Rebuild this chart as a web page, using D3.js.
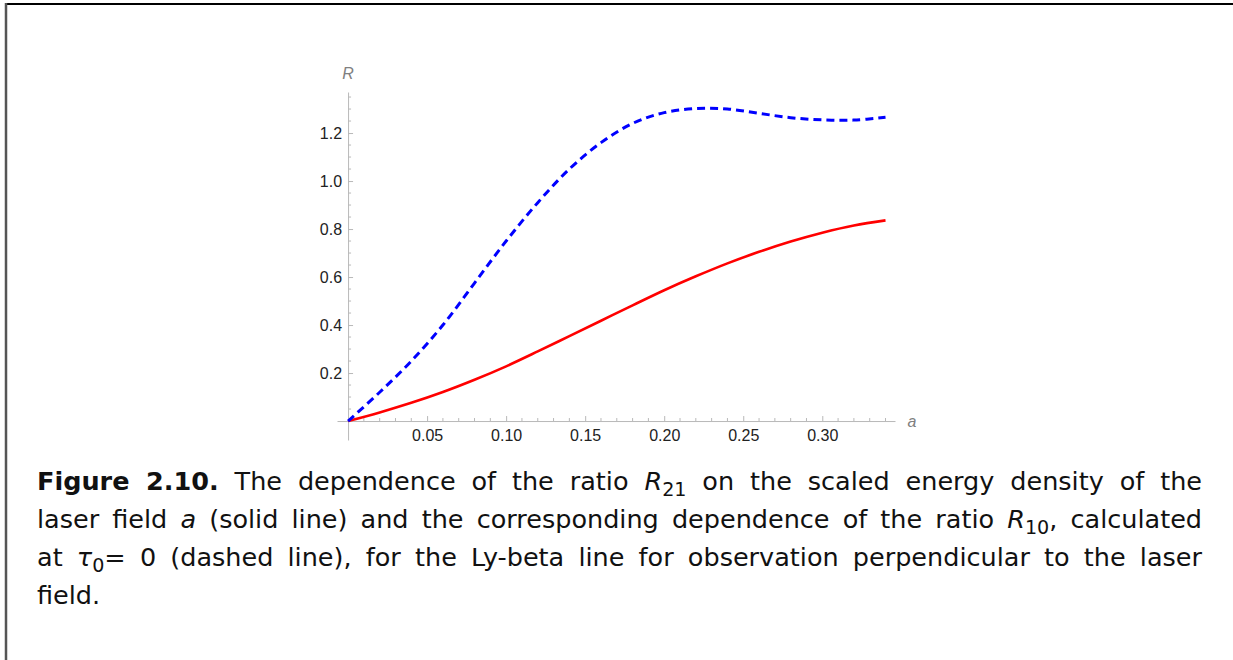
<!DOCTYPE html>
<html>
<head>
<meta charset="UTF-8"/>
<style>
  body { margin: 0; background: #fff; }
  #wrap { position: relative; width: 1233px; height: 660px; overflow: hidden; }
  #caption { position: absolute; left: 37px; top: 462px; width: 1165px;
             font-family: "DejaVu Sans", sans-serif;
             font-size: 25.5px; line-height: 38px; color: #111; }
  #caption .ln { text-align: justify; text-align-last: justify; white-space: nowrap; }
  #caption .ln.last { text-align-last: left; }
  #caption sub { font-size: 0.75em; vertical-align: -0.3em; line-height: 0; }
</style>
</head>
<body>
<div id="wrap"></div>
<script src="https://d3js.org/d3.v7.min.js"></script>
<script>
  // values
  var aValues  = [0, 0.02, 0.04, 0.06, 0.08, 0.10, 0.12, 0.14, 0.16, 0.18, 0.20, 0.22, 0.24, 0.26, 0.28, 0.30, 0.32, 0.34];
  var r21      = [0, 0.036, 0.076, 0.121, 0.172, 0.228, 0.29, 0.354, 0.418, 0.482, 0.545, 0.603, 0.657, 0.705, 0.748, 0.785, 0.815, 0.836];
  var r10      = [0, 0.12, 0.25, 0.40, 0.575, 0.75, 0.91, 1.05, 1.16, 1.24, 1.285, 1.302, 1.30, 1.282, 1.264, 1.255, 1.254, 1.266];
  var xTicks   = [0.05, 0.10, 0.15, 0.20, 0.25, 0.30];
  var yTicks   = [0.2, 0.4, 0.6, 0.8, 1.0, 1.2];
  var xMinor   = d3.range(1, 35).map(function(i) { return i / 100; }).filter(function(v) { return Math.round(v * 100) % 5 !== 0; });
  var yMinor   = d3.range(1, 28).map(function(i) { return i / 20; }).filter(function(v) { return Math.round(v * 20) % 4 !== 0; });
  var captionLines = [
    '<b>Figure 2.10.</b> The dependence of the ratio <i>R</i><sub>21</sub> on the scaled energy density of the',
    'laser field <i>a</i> (solid line) and the corresponding dependence of the ratio <i>R</i><sub>10</sub>, calculated',
    'at <i>&tau;</i><sub>0</sub>= 0 (dashed line), for the Ly-beta line for observation perpendicular to the laser',
    'field.'
  ];

  var width = 1233, height = 660;
  var wrap = d3.select("#wrap");
  var svg = wrap.append("svg").attr("width", width).attr("height", height);

  // frame (top + left edges of the page box)
  svg.append("line").attr("x1", 5).attr("x2", width).attr("y1", 4).attr("y2", 4)
    .attr("stroke", "#000").attr("stroke-width", 2);
  svg.append("line").attr("x1", 6).attr("x2", 6).attr("y1", 3).attr("y2", height)
    .attr("stroke", "#555").attr("stroke-width", 2.5);

  var x = d3.scaleLinear().domain([-0.007, 0.346]).range([337, 895]);
  var y = d3.scaleLinear().domain([-0.079, 1.371]).range([440, 92]);

  var axisColor = "#b8b8b8";
  var font = "'Liberation Sans', Arial, sans-serif";

  // minor ticks
  svg.append("g").selectAll("line").data(xMinor).enter().append("line")
    .attr("x1", function(d) { return x(d); }).attr("x2", function(d) { return x(d); })
    .attr("y1", y(0)).attr("y2", y(0) - 3)
    .attr("stroke", axisColor);
  svg.append("g").selectAll("line").data(yMinor).enter().append("line")
    .attr("y1", function(d) { return y(d); }).attr("y2", function(d) { return y(d); })
    .attr("x1", x(0)).attr("x2", x(0) + 3)
    .attr("stroke", axisColor);

  var gx = svg.append("g").attr("transform", "translate(0," + y(0) + ")")
    .call(d3.axisBottom(x).tickValues(xTicks).tickFormat(d3.format(".2f")).tickSize(-5).tickSizeOuter(0).tickPadding(9));
  var gy = svg.append("g").attr("transform", "translate(" + x(0) + ",0)")
    .call(d3.axisLeft(y).tickValues(yTicks).tickFormat(d3.format(".1f")).tickSize(-5).tickSizeOuter(0).tickPadding(6));

  [gx, gy].forEach(function(g) {
    g.select(".domain").attr("stroke", axisColor);
    g.selectAll(".tick line").attr("stroke", axisColor);
    g.selectAll(".tick text").attr("fill", "#222").style("font-family", font).style("font-size", "16px");
  });

  svg.append("text").attr("x", x(0)).attr("y", 79).attr("text-anchor", "middle")
    .style("font-family", font).style("font-size", "16px").style("font-style", "italic")
    .attr("fill", "#808080").text("R");
  svg.append("text").attr("x", 912).attr("y", 427).attr("text-anchor", "middle")
    .style("font-family", font).style("font-size", "16px").style("font-style", "italic")
    .attr("fill", "#808080").text("a");

  var line = function(vals) {
    return d3.line()
      .x(function(d, i) { return x(aValues[i]); })
      .y(function(d) { return y(d); })
      .curve(d3.curveCatmullRom.alpha(0.5))(vals);
  };

  svg.append("path").attr("d", line(r21)).attr("fill", "none")
    .attr("stroke", "#ff0000").attr("stroke-width", 2.6);
  svg.append("path").attr("d", line(r10)).attr("fill", "none")
    .attr("stroke", "#0000ff").attr("stroke-width", 3).attr("stroke-dasharray", "8,5");

  var cap = wrap.append("div").attr("id", "caption");
  cap.selectAll("div").data(captionLines).enter().append("div")
    .attr("class", function(d, i) { return i === captionLines.length - 1 ? "ln last" : "ln"; })
    .html(function(d) { return d; });
</script>
</body>
</html>
